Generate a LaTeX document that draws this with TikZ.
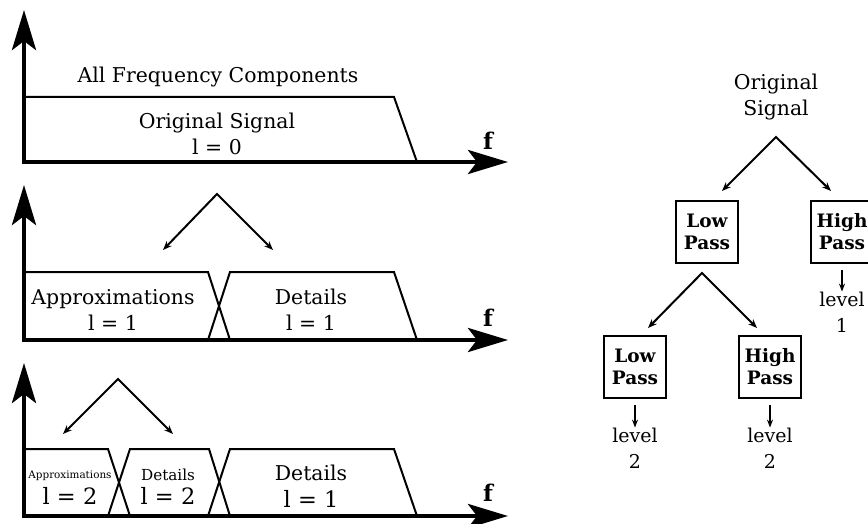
\documentclass[tikz,border=0pt]{standalone}
\usepackage{fontspec}
\setmainfont{DejaVu Serif}
\usetikzlibrary{arrows.meta}

\begin{document}
\begin{tikzpicture}[x=1pt,y=-1pt,
  axis/.style={line width=4.5pt,line join=miter,
    {Stealth[length=40pt,width=24pt,inset=9pt]}-{Stealth[length=40pt,width=24pt,inset=9pt]}},
  band/.style={line width=2pt,line join=miter},
  fork/.style={line width=2pt,line join=miter,
    {Stealth[length=9pt,width=7pt]}-{Stealth[length=9pt,width=7pt]}},
  down/.style={line width=1.6pt,-{Stealth[length=8pt,width=6pt]}},
  lbl/.style={font=\fontsize{20.4}{26}\selectfont,align=center},
  big/.style={font=\fontsize{22.5}{24}\selectfont},
  freq/.style={font=\bfseries\fontsize{23}{26}\selectfont},
  filt/.style={draw,line width=2pt,minimum width=62pt,minimum height=62pt,
    font=\bfseries\fontsize{18.5}{22}\selectfont,align=center},
  lvl/.style={font=\fontsize{19}{26}\selectfont,align=center,inner sep=0pt}]
\useasboundingbox (0,0) rectangle (868,524);
\clip (0,0) rectangle (868,524);

% level 0: whole spectrum
\draw[band] (24,97) -- (394,97) -- (417,162);
\draw[axis] (24,10) -- (24,162) -- (508,162);
\node[freq] (f0) at (488,141) {f};
\node[lbl] (all) at (218,77) {All Frequency Components};
\node[lbl] (sig0) at (217,134) {Original Signal\\l = 0};

% level 1: approximations and details
\draw[band] (24,272) -- (208,272) -- (230,340);
\draw[band] (208,340) -- (230,272) -- (394,272) -- (417,340);
\draw[axis] (24,185) -- (24,340) -- (508,340);
\draw[fork] (163,250) -- (217,194) -- (273,250);
\node[freq] (f1) at (488,318) {f};
\node[lbl] (app1) at (113,310) {Approximations\\l = 1};
\node[lbl] (det1) at (311,310) {Details\\l = 1};

% level 2: approximations split again
\draw[band] (24,449) -- (108,449) -- (130,516);
\draw[band] (108,516) -- (130,449) -- (209,449) -- (230,516);
\draw[band] (208,516) -- (230,449) -- (394,449) -- (417,516);
\draw[axis] (24,363) -- (24,516) -- (508,516);
\draw[fork] (63,434) -- (118,379) -- (173,434);
\node[freq] (f2) at (488,493) {f};
\node[font=\fontsize{10.4}{12}\selectfont] (app2) at (70,476) {Approximations};
\node[big] (app2l) at (70,496) {l = 2};
\node[font=\fontsize{15.2}{17}\selectfont] (det2) at (168,475) {Details};
\node[big] (det2l) at (168,496) {l = 2};
\node[lbl] (det1b) at (311,473) {Details};
\node[big] (det1bl) at (311,499) {l = 1};

% filter bank tree
\node[lbl] (orig) at (776,97) {Original\\Signal};
\coordinate (fork1) at (776,137);
\node[filt] (lp1) at (707,232) {Low\\Pass};
\node[filt] (hp1) at (842,232) {High\\Pass};
\draw[fork] ([xshift=15pt,yshift=9pt]lp1.north) -- (fork1) -- ([xshift=-11pt,yshift=9pt]hp1.north);
\node[lvl] (lv1) at (842,312) {level\\1};
\draw[down] ([yshift=-6pt]hp1.south) -- (lv1.north);

\coordinate (fork2) at (702,273);
\node[filt] (lp2) at (635,367) {Low\\Pass};
\node[filt] (hp2) at (770,367) {High\\Pass};
\draw[fork] ([xshift=13pt,yshift=7pt]lp2.north) -- (fork2) -- ([xshift=-13pt,yshift=7pt]hp2.north);
\node[lvl] (lv2a) at (635,448) {level\\2};
\node[lvl] (lv2b) at (770,448) {level\\2};
\draw[down] ([yshift=-6pt]lp2.south) -- (lv2a.north);
\draw[down] ([yshift=-6pt]hp2.south) -- (lv2b.north);
\end{tikzpicture}
\end{document}
